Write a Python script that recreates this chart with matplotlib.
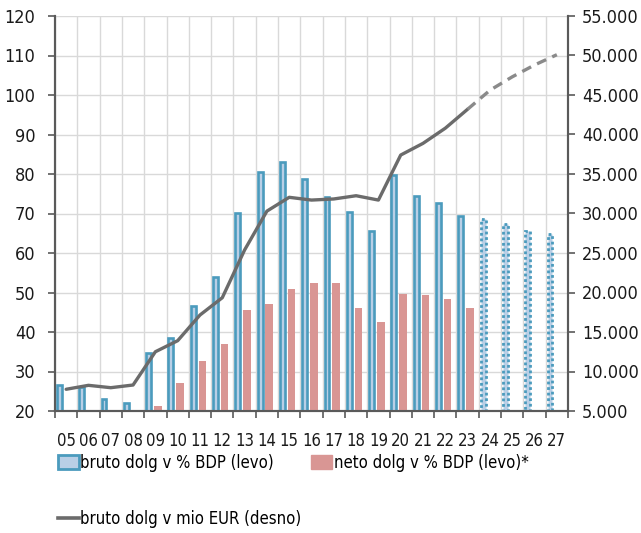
import matplotlib
matplotlib.use("Agg")
import matplotlib.pyplot as plt
from matplotlib.patches import Patch
from matplotlib.lines import Line2D
from matplotlib.ticker import FuncFormatter, MultipleLocator
import numpy as np

plt.rcParams['font.family'] = 'DejaVu Sans'
plt.rcParams['font.stretch'] = 'condensed'

# leta 2005-2027, 24-27 = napoved
years = ['05', '06', '07', '08', '09', '10', '11', '12', '13', '14', '15', '16',
         '17', '18', '19', '20', '21', '22', '23', '24', '25', '26', '27']
bruto_pct = [26.5, 26.1, 23.0, 22.0, 34.8, 38.5, 46.6, 53.8, 70.2, 80.4, 83.0, 78.7,
             74.2, 70.4, 65.6, 79.7, 74.4, 72.7, 69.4, 68.6, 67.3, 65.6, 64.7]
neto_pct = [20.3, 20.3, 20.3, 20.3, 21.3, 27.2, 32.7, 37.0, 45.6, 47.0, 50.8, 52.5,
            52.3, 46.2, 42.5, 49.5, 49.4, 48.4, 46.2]
bruto_eur = [7750, 8250, 7950, 8290, 12500, 13900, 17150, 19340, 25380, 30300, 32050, 31700,
             31840, 32250, 31700, 37400, 38880, 40800, 43200, 45600, 47300, 48800, 50100]
n_hist = 19  # 05..23 realizacija

blue_edge = '#4b9bbd'
blue_fill = '#b9cfe6'
pink = '#d99694'
line_col = '#6b6b6b'
dash_col = '#8a8a8a'
axis_col = '#5a5a5a'
grid_col = '#d9d9d9'
txt_col = '#1a1a1a'

fig = plt.figure(figsize=(6.41, 5.33), dpi=100)
ax = fig.add_axes([55/641, 1-411/533, 513/641, 395/533])
ax2 = ax.twinx()

x = np.arange(len(years))

# bruto (realizacija)
ax.bar(x[:n_hist] + 0.195, bruto_pct[:n_hist], width=0.22, color=blue_fill,
       edgecolor=blue_edge, linewidth=1.9, zorder=3)
# bruto (napoved) - pikcasta obroba
ax.bar(x[n_hist:] + 0.195, bruto_pct[n_hist:], width=0.22, color=blue_fill,
       edgecolor=blue_edge, linewidth=2.0, linestyle=(0, (1, 1)), zorder=3)
# neto
ax.bar(x[:n_hist] + 0.605, neto_pct, width=0.34, color=pink, linewidth=0, zorder=3)

ax.set_xlim(0, len(years))
ax.set_ylim(20, 120)
ax.yaxis.set_major_locator(MultipleLocator(10))
ax.set_xticks(np.arange(len(years) + 1))
ax.set_xticklabels([])
ax.set_xticks(x + 0.5, minor=True)
ax.set_xticklabels(years, minor=True)
ax.tick_params(axis='x', which='major', length=5, width=1.2, color=axis_col)
ax.tick_params(axis='x', which='minor', length=0, pad=15, labelsize=12, labelcolor=txt_col)
ax.tick_params(axis='y', length=5, width=1.2, color=axis_col, pad=9, labelsize=13,
               labelcolor=txt_col)
ax.grid(True, which='major', color=grid_col, linewidth=1, zorder=0)
ax.set_axisbelow(True)

# linija v mio EUR (desna os)
ax2.plot(x[:n_hist] + 0.5, bruto_eur[:n_hist], color=line_col, linewidth=2.4,
         solid_capstyle='round', zorder=5)
ax2.plot(x[n_hist - 1:] + 0.5, bruto_eur[n_hist - 1:], color=dash_col, linewidth=2.4,
         dashes=(3, 2), zorder=5)
ax2.set_ylim(5000, 55000)
ax2.yaxis.set_major_locator(MultipleLocator(5000))
ax2.yaxis.set_major_formatter(FuncFormatter(lambda v, p: '{:,.0f}'.format(v).replace(',', '.')))
ax2.tick_params(axis='y', length=5, width=1.2, color=axis_col, pad=5, labelsize=13,
                labelcolor=txt_col)

for a in (ax, ax2):
    a.spines['top'].set_visible(False)
    for s in ('left', 'right', 'bottom'):
        a.spines[s].set_color(axis_col)
        a.spines[s].set_linewidth(1.5)

handles = [Patch(facecolor=blue_fill, edgecolor=blue_edge, linewidth=2),
           Line2D([0], [0], color=line_col, linewidth=2.6),
           Patch(facecolor=pink, edgecolor=pink)]
labels = ['bruto dolg v % BDP (levo)', 'bruto dolg v mio EUR (desno)',
          'neto dolg v % BDP (levo)*']
fig.legend(handles, labels, loc='upper left', bbox_to_anchor=(51/641, 1-447/533),
           ncol=2, frameon=False, fontsize=12, handlelength=1.25, handleheight=0.9,
           handletextpad=0.1, columnspacing=0.6, labelspacing=2.3, borderaxespad=0)

fig.savefig('out.png', dpi=100)
